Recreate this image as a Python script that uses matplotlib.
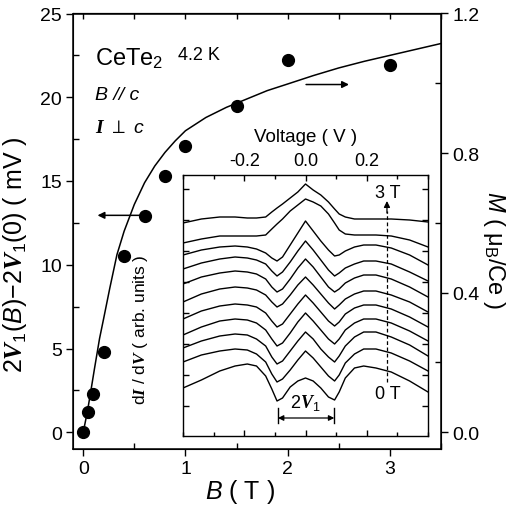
import numpy as np
import matplotlib
matplotlib.use('Agg')
import matplotlib.pyplot as plt
from matplotlib.ticker import MultipleLocator

plt.rcParams['font.family'] = ['Liberation Sans', 'DejaVu Sans']
plt.rcParams['mathtext.fontset'] = 'custom'
plt.rcParams['mathtext.rm'] = 'Liberation Sans'
plt.rcParams['mathtext.it'] = 'Liberation Sans:italic'
plt.rcParams['mathtext.bf'] = 'Liberation Serif:bold:italic'

# ---- main panel data ----
field_T = [0, 0.05, 0.1, 0.2, 0.4, 0.6, 0.8, 1.0, 1.5, 2.0, 3.0]
gap_shift_mV = [0, 1.2, 2.3, 4.8, 10.5, 12.9, 15.3, 17.1, 19.5, 22.2, 21.9]

mag_B = [0, 0.04, 0.07, 0.11, 0.16, 0.2, 0.26, 0.33, 0.4, 0.5, 0.6, 0.7, 0.8, 0.9,
         1.0, 1.2, 1.4, 1.6, 1.8, 2.0, 2.25, 2.5, 2.75, 3.0, 3.25, 3.5]
mag_M = [0, 0.058, 0.110, 0.182, 0.269, 0.326, 0.413, 0.509, 0.576, 0.653, 0.715,
         0.763, 0.802, 0.835, 0.864, 0.902, 0.931, 0.955, 0.979, 0.998, 1.022,
         1.044, 1.063, 1.080, 1.097, 1.114]

# ---- inset data (dI/dV traces, arb. units, offset per field) ----
inset_V = [-0.40, -0.34, -0.28, -0.23, -0.19, -0.16, -0.13, -0.11, -0.093, -0.075,
           -0.05, -0.025, 0.0, 0.025, 0.05, 0.075, 0.095, 0.11, 0.13, 0.16, 0.19,
           0.23, 0.28, 0.34, 0.40]
didv_0T = [389, 381, 372, 367, 365, 367, 377, 390, 402, 399, 388, 382, 379, 382, 389, 398, 401, 393, 379, 369, 367, 369, 373, 382, 393]
didv_0p05T = [363, 356, 352, 350, 351, 355, 363, 375, 383, 380, 371, 361, 352, 359, 368, 377, 382, 376, 364, 355, 350, 350, 354, 362, 372]
didv_0p1T = [349, 342, 337, 335, 336, 340, 347, 358, 365, 362, 352, 342, 333, 340, 350, 358, 363, 357, 347, 338, 333, 333, 338, 346, 357]
didv_0p2T = [336, 328, 322, 320, 321, 324, 331, 340, 347, 344, 334, 323, 314, 322, 331, 340, 345, 340, 331, 324, 320, 320, 324, 332, 342]
didv_0p4T = [320, 312, 307, 305, 306, 308, 314, 322, 328, 325, 315, 305, 296, 304, 313, 322, 327, 323, 315, 309, 306, 306, 310, 318, 328]
didv_0p6T = [303, 295, 290, 288, 289, 291, 296, 303, 308, 305, 296, 286, 278, 286, 295, 304, 310, 306, 300, 295, 292, 292, 296, 303, 313]
didv_0p8T = [285, 278, 274, 272, 273, 275, 280, 288, 293, 290, 280, 269, 260, 268, 278, 288, 293, 290, 284, 279, 276, 276, 280, 288, 298]
didv_1T = [270, 264, 260, 258, 259, 261, 265, 272, 277, 273, 263, 252, 242, 251, 261, 271, 277, 274, 269, 265, 262, 262, 265, 273, 282]
didv_1p5T = [256, 251, 248, 247, 248, 250, 254, 259, 262, 258, 246, 234, 222, 232, 242, 251, 257, 256, 252, 248, 246, 246, 249, 256, 266]
didv_2T = [244, 240, 237, 237, 237, 237, 236, 230, 225, 220, 212, 206, 200, 203, 207, 215, 224, 231, 235, 236, 236, 236, 237, 241, 248]
didv_3T = [224, 220, 218, 218, 219, 219, 218, 213, 209, 205, 199, 193, 185, 191, 196, 203, 210, 215, 218, 220, 220, 220, 220, 221, 223]
inset_traces = [didv_0T, didv_0p05T, didv_0p1T, didv_0p2T, didv_0p4T, didv_0p6T,
                didv_0p8T, didv_1T, didv_1p5T, didv_2T, didv_3T]

main_xticks = [0, 1, 2, 3]
left_yticks = [0, 5, 10, 15, 20, 25]
right_yticks = [0.0, 0.4, 0.8, 1.2]
inset_xticks = [-0.2, 0.0, 0.2]
inset_xticklabels = ['-0.2', '0.0', '0.2']

fig = plt.figure(figsize=(5.09, 5.10), dpi=100)
ax = fig.add_axes([73/509, 1-450/510, (441-73)/509, (450-14.5)/510])
ax.set_xlim(-0.1, 3.5)
ax.set_ylim(-1.0, 25)
ax.plot(field_T, gap_shift_mV, 'o', color='black', ms=8.5, zorder=3)

ax2 = ax.twinx()
ax2.set_ylim(-0.048, 1.2)
ax2.plot(mag_B, mag_M, '-', color='black', lw=1.1)

for s in list(ax.spines.values()):
    s.set_linewidth(1.1)

ax.set_xticks(main_xticks)
ax.xaxis.set_minor_locator(MultipleLocator(0.5))
ax.set_yticks(left_yticks)
ax.yaxis.set_minor_locator(MultipleLocator(2.5))
ax.tick_params(which='major', direction='out', length=5, width=1.0, labelsize=14,
               top=False, right=False, pad=3)
ax.tick_params(which='minor', direction='in', length=4, width=1.0, top=False, right=False)

ax2.set_yticks(right_yticks)
ax2.set_yticklabels(['0.0', '0.4', '0.8', '1.2'])
ax2.yaxis.set_minor_locator(MultipleLocator(0.2))
ax2.tick_params(which='major', direction='out', length=5, width=1.0, labelsize=14, pad=3)
ax2.tick_params(which='minor', direction='in', length=4, width=1.0)

secx = ax.secondary_xaxis('top')
secx.set_xticks(main_xticks)
secx.xaxis.set_minor_locator(MultipleLocator(0.5))
secx.tick_params(which='both', direction='in', length=4, width=1.0, labeltop=False)

ax.set_xlabel(r'$\mathit{B}$ ( T )', fontsize=18, va='center')
ax.xaxis.set_label_coords((240-73)/368, (450-492)/436)
ax.set_ylabel(r'$2\mathbf{V}_1(\mathit{B}){-}2\mathbf{V}_1(0)$ ( mV )', fontsize=18, va='center')
ax.yaxis.set_label_coords((15-73)/368, (450-255)/436)
ax2.set_ylabel(r'$\mathit{M}$ ( μ$_\mathrm{B}$/Ce )', fontsize=17, rotation=270, va='center', ha='center')
ax2.yaxis.set_label_coords((494-73)/368, (450-250)/436)

ax.text(0.06, 0.900, r'CeTe$_2$', transform=ax.transAxes, fontsize=17, ha='left', va='center')
ax.text(0.285, 0.905, '4.2 K', transform=ax.transAxes, fontsize=13, ha='left', va='center')
ax.text(0.06, 0.814, 'B // c', transform=ax.transAxes, fontsize=14, style='italic', ha='left', va='center')
ax.text(0.06, 0.739, r'$\mathbf{I}\ \perp\ \mathit{c}$', transform=ax.transAxes, fontsize=14, ha='left', va='center')

ax.annotate('', xy=(0.14, 12.95), xytext=(0.56, 12.95),
            arrowprops=dict(arrowstyle='-|>', color='black', lw=1.1, mutation_scale=10,
                            shrinkA=0, shrinkB=0))
ax.annotate('', xy=(2.6, 20.76), xytext=(2.18, 20.76),
            arrowprops=dict(arrowstyle='-|>', color='black', lw=1.1, mutation_scale=10,
                            shrinkA=0, shrinkB=0))

# ---- inset ----
axin = fig.add_axes([183/509, 1-437/510, (428-183)/509, (437-176)/510])
axin.set_facecolor('white')
axin.set_xlim(-0.4, 0.4)
axin.set_ylim(437, 176)
for tr in inset_traces:
    axin.plot(inset_V, tr, '-', color='black', lw=1.0)
for s in axin.spines.values():
    s.set_linewidth(1.0)
axin.xaxis.tick_top()
axin.xaxis.set_label_position('top')
axin.set_xticks(inset_xticks)
axin.set_xticklabels(inset_xticklabels)
axin.xaxis.set_minor_locator(MultipleLocator(0.1))
axin.set_yticks([190, 221, 252, 283, 314, 345, 376, 407])
axin.tick_params(which='both', direction='in', length=4, width=1.0, top=True, bottom=True,
                 left=True, right=True, labelleft=False, labelbottom=False, labeltop=True,
                 labelsize=13, pad=4)
axin.tick_params(which='minor', length=3)
axin.set_xlabel('Voltage ( V )', fontsize=13.5, labelpad=8)
axin.text((141-183)/245, (437-330)/261, r'd$\mathbf{I}$ / d$\mathbf{V}$ ( arb. units )',
          transform=axin.transAxes, rotation=90, fontsize=12.5, ha='center', va='center')

axin.plot([0.266, 0.266], [383, 212], color='black', lw=0.9, dashes=(3, 2))
axin.annotate('', xy=(0.266, 202), xytext=(0.266, 214),
              arrowprops=dict(arrowstyle='-|>', color='black', lw=0.9, mutation_scale=9,
                              shrinkA=0, shrinkB=0))
axin.text(0.268, 194, '3 T', fontsize=13, ha='center', va='center')
axin.text(0.268, 395, '0 T', fontsize=13, ha='center', va='center')
axin.text(0.0, 403, r'2$\mathbf{V}_1$', fontsize=13, ha='center', va='center')
axin.plot([-0.09, -0.09], [409, 424], color='black', lw=1.0)
axin.plot([0.094, 0.094], [409, 424], color='black', lw=1.0)
axin.annotate('', xy=(-0.09, 419), xytext=(0.094, 419),
              arrowprops=dict(arrowstyle='<|-|>', color='black', lw=0.9, mutation_scale=8,
                              shrinkA=0, shrinkB=0))

fig.savefig('out.png', dpi=100)
